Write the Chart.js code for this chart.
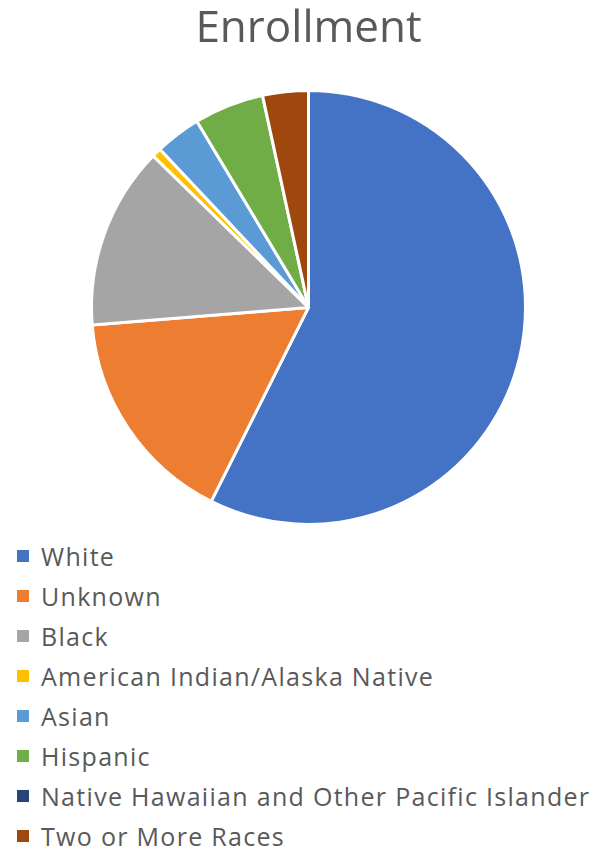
<!DOCTYPE html>
<html>
<head>
<meta charset="utf-8">
<script src="https://cdn.jsdelivr.net/npm/chart.js@4"></script>
<style>
  body { margin: 0; background: #fff; width: 595px; height: 852px; position: relative; overflow: hidden; }
  #wrap { position: absolute; left: 0; top: 0; width: 595px; height: 530px; }
  #legend { position: absolute; left: 0; top: 536px; font-family: "Open Sans", sans-serif; font-size: 25px; letter-spacing: 1.3px; color: #595959; }
  .row { height: 40px; line-height: 40px; white-space: nowrap; position: relative; padding-left: 41px; }
  .box { position: absolute; left: 17px; top: 14px; width: 12px; height: 12px; }
</style>
</head>
<body>
<div id="wrap"><canvas id="myChart"></canvas></div>
<div id="legend"></div>
<script>
const categories = ['White', 'Unknown', 'Black', 'American Indian/Alaska Native', 'Asian', 'Hispanic', 'Native Hawaiian and Other Pacific Islander', 'Two or More Races'];
const enrollment = [57.4, 16.3, 13.6, 0.7, 3.4, 5.2, 0, 3.4];
const colors = ['#4472C4', '#ED7D31', '#A5A5A5', '#FFC000', '#5B9BD5', '#70AD47', '#264478', '#9E480E'];

function draw_chart() {
    const ctx = document.getElementById('myChart');

    new Chart(ctx, {
        type: 'pie',
        data: {
            labels: categories,
            datasets: [{
                label: 'Enrollment',
                data: enrollment,
                backgroundColor: colors,
                borderColor: '#ffffff',
                borderWidth: 3
            }]
        },
        options: {
            responsive: true,
            maintainAspectRatio: false,
            animation: false,
            layout: {
                padding: { left: 90, right: 68, top: 0, bottom: 4 }
            },
            plugins: {
                legend: { display: false },
                tooltip: { enabled: false },
                title: {
                    display: true,
                    text: 'Enrollment',
                    color: '#595959',
                    font: { family: 'Open Sans', size: 44, weight: 'normal' },
                    padding: { top: 3, bottom: 33 }
                }
            }
        }
    });

    // legend, one item per row
    const legend = document.getElementById('legend');
    categories.forEach(function(name, i) {
        const row = document.createElement('div');
        row.className = 'row';
        const box = document.createElement('span');
        box.className = 'box';
        box.style.background = colors[i];
        row.appendChild(box);
        row.appendChild(document.createTextNode(name));
        legend.appendChild(row);
    });
}

draw_chart();
</script>
</body>
</html>
